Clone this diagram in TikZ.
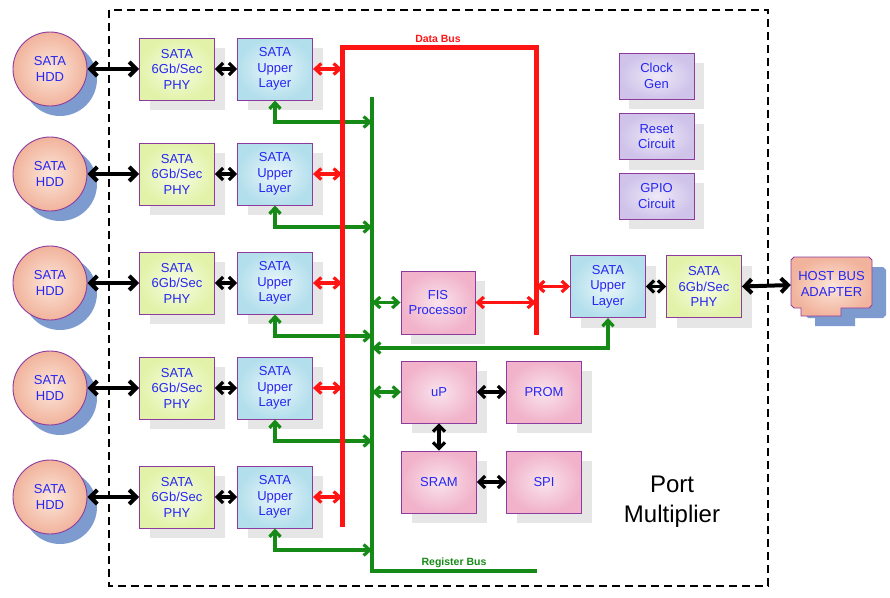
\documentclass[tikz,border=0pt]{standalone}
\usepackage{fontspec}
\setmainfont{Liberation Sans}
\usetikzlibrary{arrows.meta,shadows,positioning}
\definecolor{edgepurple}{HTML}{8E3B9E}
\definecolor{txtblue}{HTML}{2626F2}
\definecolor{busred}{HTML}{FF1414}
\definecolor{busgreen}{HTML}{168A16}
\definecolor{shadegray}{HTML}{E6E6E6}
\definecolor{hddblue}{HTML}{7E9BCF}
\definecolor{peachin}{HTML}{FCE6DA}
\definecolor{peachout}{HTML}{F1B39C}
\definecolor{phyin}{HTML}{F7FCE6}
\definecolor{phyout}{HTML}{E2F3A9}
\definecolor{ulin}{HTML}{EAF6FA}
\definecolor{ulout}{HTML}{B3DFEC}
\definecolor{pinkin}{HTML}{F9E4EC}
\definecolor{pinkout}{HTML}{F1B2CA}
\definecolor{lavin}{HTML}{EEE9F7}
\definecolor{lavout}{HTML}{CFC3EA}
\begin{document}
\begin{tikzpicture}[x=1pt,y=-1pt,
    box/.style={draw=edgepurple,line width=0.9pt,minimum width=75pt,minimum height=62pt,
      inner sep=0pt,align=center,text=txtblue,font=\fontsize{13}{15.5}\selectfont,
      shading=radial,drop shadow={shadow xshift=10pt,shadow yshift=-10pt,fill=shadegray,opacity=1}},
    phybox/.style={box,inner color=phyin,outer color=phyout},
    ulbox/.style={box,inner color=ulin,outer color=ulout},
    pinkbox/.style={box,inner color=pinkin,outer color=pinkout},
    lavbox/.style={box,minimum height=46pt,inner color=lavin,outer color=lavout},
    hdd/.style={circle,draw=edgepurple,line width=0.9pt,minimum size=74pt,inner sep=0pt,
      align=center,text=txtblue,font=\fontsize{13}{15.5}\selectfont,
      shading=radial,inner color=peachin,outer color=peachout,
      drop shadow={shadow xshift=10pt,shadow yshift=-10pt,fill=hddblue,opacity=1}},
    hbashadow/.style={fill=hddblue},
    hbabox/.style={draw=edgepurple,line width=0.9pt,shading=radial,inner color=peachin,outer color=peachout},
    blkbig/.style={line width=4pt,{Straight Barb[length=7pt,width=14pt]}-{Straight Barb[length=7pt,width=14pt]}},
    blksmall/.style={line width=3.2pt,{Straight Barb[length=6pt,width=12pt]}-{Straight Barb[length=6pt,width=12pt]}},
    redarrow/.style={busred,line width=3.2pt,{Straight Barb[length=6pt,width=11pt]}-{Straight Barb[length=6pt,width=11pt]}},
    grnarrow/.style={busgreen,line width=3.2pt,{Straight Barb[length=6pt,width=11pt]}-{Straight Barb[length=6pt,width=11pt]}},
    buslabel/.style={font=\bfseries\fontsize{10.5}{12}\selectfont}
  ]
  \useasboundingbox (0,0) rectangle (890,597);
  %% Port multiplier boundary
  \draw[line width=1.3pt,dash pattern=on 8pt off 5pt] (109,10) rectangle (768,586);
  %% Bus corners
  \coordinate (dtop) at (342,47);
  \coordinate (dbot) at (342,527);
  \coordinate (dtr) at (536,47);
  \coordinate (dbr) at (536,335);
  \coordinate (rtop) at (372,97);
  \coordinate (rbot) at (372,571);
  \coordinate (rend) at (537,571);
  %% Drive side ports
  \foreach \y [count=\i] in {69,174,283,388,497} {
    \node[hdd] (hdd\i) at (50,\y) {SATA\\HDD};
    \node[phybox] (phy\i) at (177,\y) {SATA\\6Gb/Sec\\PHY};
    \node[ulbox] (ul\i) at (275,\y) {SATA\\Upper\\Layer};
    \coordinate (rreg\i) at (372,\y+53);
    \draw[blkbig] (hdd\i) -- (phy\i);
    \draw[blksmall] (phy\i) -- (ul\i);
    \draw[grnarrow] (ul\i.south) |- (rreg\i);
    \draw[redarrow] (ul\i.east) -- (ul\i.east -| dtop);
  }
  %% Host side port
  \node[ulbox] (ulh) at (608,286.5) {SATA\\Upper\\Layer};
  \node[phybox] (phyh) at (704,286.5) {SATA\\6Gb/Sec\\PHY};
  \node[minimum width=81pt,minimum height=56pt,inner sep=0pt] (hba) at (831.5,285) {};
  \foreach \sty/\dx/\dy in {hbashadow/14/10,hbabox/0/0} {
    \path[\sty,shift={(\dx,\dy)}]
      (794,257) -- (869,257) -- (872,260) -- (872,305) -- (869,308) -- (841,308) -- (841,316)
      -- (801,316) -- (801,308) -- (794,308) -- (791,305) -- (791,260) -- cycle;
  }
  \node[align=center,text=txtblue,font=\fontsize{13}{15.5}\selectfont] (hbatext) at (831.5,284) {HOST BUS\\ADAPTER};
  \coordinate (rhost) at (372,348);
  \draw[blksmall] (ulh) -- (phyh);
  \draw[blkbig] (phyh.east) -- (hba.west);
  \draw[grnarrow] (ulh.south) |- (rhost);
  \draw[redarrow] (ulh.west -| dtr) -- (ulh.west);
  %% Processor block
  \node[pinkbox,minimum width=74pt,minimum height=63pt] (fis) at (438,302.5) {FIS\\Processor};
  \node[pinkbox] (cpu) at (439,392) {uP};
  \node[pinkbox] (prom) at (544,392) {PROM};
  \node[pinkbox] (sram) at (439,482) {SRAM};
  \node[pinkbox] (spi) at (544,482) {SPI};
  \draw[grnarrow] (fis.west -| rtop) -- (fis.west);
  \draw[redarrow] (fis.east) -- (fis.east -| dtr);
  \draw[grnarrow] (cpu.west -| rtop) -- (cpu.west);
  \draw[blksmall] (cpu) -- (prom);
  \draw[blksmall] (sram) -- (spi);
  \draw[blksmall] (cpu) -- (sram);
  %% Misc blocks
  \node[lavbox] (clk) at (656.5,76) {Clock\\Gen};
  \node[lavbox] (rst) at (656.5,136.5) {Reset\\Circuit};
  \node[lavbox] (gpio) at (656.5,196) {GPIO\\Circuit};
  %% Buses
  \draw[busgreen,line width=3.2pt] (rtop) -- (rbot) -- (rend);
  \draw[busred,line width=5pt] (dbot) -- (dtop) -- (dtr) -- (dbr);
  \node[buslabel,text=busred] (dlabel) at (438,39) {Data Bus};
  \node[buslabel,text=busgreen] (rlabel) at (454,563) {Register Bus};
  \node[align=center,font=\fontsize{24}{30}\selectfont] (pmlabel) at (672,502) {Port\\Multiplier};
\end{tikzpicture}
\end{document}
